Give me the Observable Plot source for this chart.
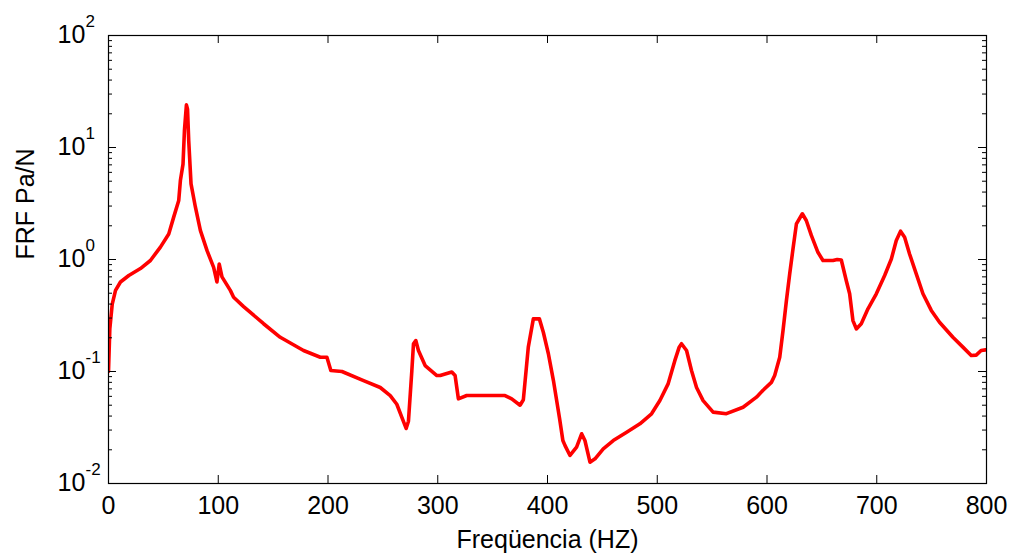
<!DOCTYPE html>
<html><head><meta charset="utf-8">
<script src="https://cdn.jsdelivr.net/npm/d3@7"></script>
<script src="https://cdn.jsdelivr.net/npm/@observablehq/plot@0.6"></script>
<style>body{margin:0;background:#fff} #chart svg{display:block}</style>
</head><body><div id="chart"></div>
<script>
const freq = [0,1.2,3.4,6.4,10.9,18.5,29.1,38.2,47.3,54.9,59.4,64.0,65.5,67.9,69.2,71.0,72.0,73.1,75.2,79.2,83.7,89.8,95.8,98.8,100.9,103.4,111,114,123.1,141.3,156.5,177.7,193,199,202.6,212.7,232.4,247.6,256.7,262.7,267.3,271.2,273.3,276.4,277.9,280,282.4,288.5,299.2,302.2,312.8,315.8,318.8,326.4,361.3,367.4,375,378,382.5,387.1,392.6,396.2,400.8,405.4,411,414,416,420.5,426.5,431.1,434.1,438.7,443.3,450.8,459.9,472.1,484.2,494.8,502.4,510,516,520,522.1,526.7,531.2,535.8,541.8,550.9,563,578.2,590.4,596.4,604,607,611.6,614.6,617.7,620.7,623.7,626.8,632.2,635.8,640.4,646.4,651,660.1,664,667.7,672.2,675.3,678.3,681.4,685.9,692,699.6,707.2,713.3,717.8,721.7,725.4,729.9,736,742.1,749.7,757.2,769.4,778.5,786.1,790.6,795.1,799.1];
const frf = [0.10,0.24,0.40,0.53,0.63,0.72,0.83,0.98,1.29,1.69,2.39,3.37,5.07,7.1,14.2,24,22,11.5,4.74,2.93,1.82,1.20,0.85,0.63,0.91,0.70,0.53,0.46,0.38,0.267,0.202,0.154,0.134,0.134,0.102,0.100,0.083,0.072,0.061,0.051,0.039,0.031,0.036,0.102,0.177,0.189,0.154,0.113,0.092,0.092,0.099,0.092,0.057,0.061,0.061,0.057,0.050,0.056,0.165,0.295,0.295,0.224,0.144,0.083,0.038,0.0242,0.0218,0.0178,0.0211,0.0278,0.0242,0.0155,0.0166,0.0204,0.0242,0.0287,0.0341,0.0419,0.055,0.078,0.125,0.165,0.177,0.154,0.102,0.072,0.055,0.0434,0.042,0.048,0.059,0.068,0.080,0.092,0.134,0.232,0.43,0.745,1.245,2.08,2.56,2.23,1.64,1.16,0.98,0.98,1.0,0.99,0.65,0.494,0.285,0.24,0.267,0.363,0.494,0.72,1.01,1.48,1.79,1.58,1.12,0.745,0.494,0.351,0.275,0.202,0.165,0.139,0.14,0.154,0.156];
const xTicks = [0,100,200,300,400,500,600,700,800];
const xTickLabels = ["0","100","200","300","400","500","600","700","800"];
const yTicks = [0.01,0.1,1,10,100];
const yExps = ["-2","-1","0","1","2"];
const decades = [0.01,0.1,1,10];
const mult = [2,3,4,5,6,7,8,9];
const yMinor = decades.flatMap(d => mult.map(m => d*m));

const data = freq.map((f,i) => ({f, v: frf[i]}));
const W = 1012, H = 553, mL = 108, mR = 26, mT = 35, mB = 70;
const innerW = W - mL - mR, innerH = H - mT - mB;
const font = "Liberation Sans, Arial, sans-serif";

const chart = Plot.plot({
  width: W, height: H,
  marginLeft: mL, marginRight: mR, marginTop: mT, marginBottom: mB,
  style: {fontFamily: font, background: "#fff", overflow: "visible"},
  x: {domain: [0, 800], axis: null},
  y: {type: "log", domain: [0.01, 100], axis: null},
  marks: [
    Plot.line(data, {x: "f", y: "v", stroke: "#ff0000", strokeWidth: 3.6, clip: true, strokeLinejoin: "round"}),
    Plot.frame({stroke: "#000", strokeWidth: 1.2}),
    Plot.tickX(xTicks, {x: d => d, insetTop: innerH - 8, stroke: "#000"}),
    Plot.tickX(xTicks, {x: d => d, insetBottom: innerH - 8, stroke: "#000"}),
    Plot.tickY(yTicks, {y: d => d, insetRight: innerW - 8, stroke: "#000"}),
    Plot.tickY(yTicks, {y: d => d, insetLeft: innerW - 8, stroke: "#000"}),
    Plot.tickY(yMinor, {y: d => d, insetRight: innerW - 4, stroke: "#000"}),
    Plot.tickY(yMinor, {y: d => d, insetLeft: innerW - 4, stroke: "#000"}),
    Plot.text(xTicks, {x: d => d, frameAnchor: "bottom", text: (d,i) => xTickLabels[i], fontSize: 25, lineAnchor: "middle", dy: 22, fill: "#000"}),
    Plot.text(yTicks, {y: d => d, frameAnchor: "left", text: () => "10", textAnchor: "start", dx: -51, dy: -1, fontSize: 25, lineAnchor: "middle", fill: "#000"}),
    Plot.text(yTicks, {y: d => d, frameAnchor: "left", text: (d,i) => yExps[i], textAnchor: "start", dx: -23, dy: -14.4, fontSize: 17, lineAnchor: "middle", fill: "#000"}),
    Plot.text(["FRF Pa/N"], {frameAnchor: "left", text: d => d, rotate: -90, dx: -83, fontSize: 25, lineAnchor: "middle", fill: "#000"}),
    Plot.text(["Freqüencia (HZ)"], {frameAnchor: "bottom", text: d => d, dy: 56, fontSize: 25, lineAnchor: "middle", fill: "#000"})
  ]
});
document.getElementById("chart").appendChild(chart);
</script>
</body></html>
